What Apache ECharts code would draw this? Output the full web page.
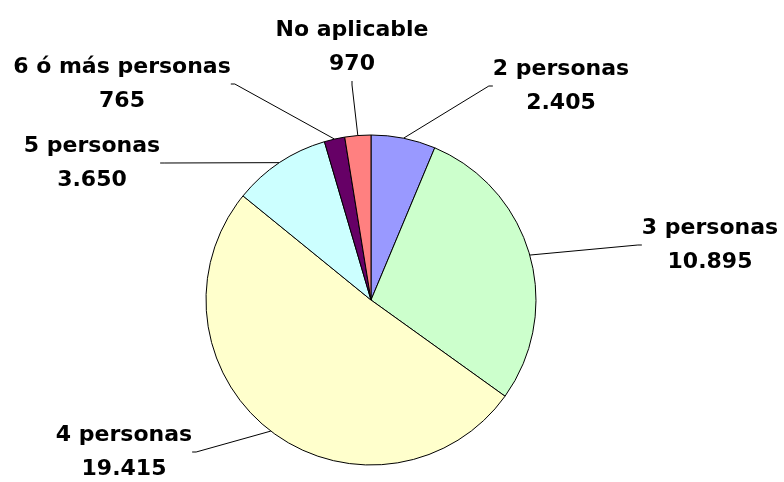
<!DOCTYPE html>
<html>
<head>
<meta charset="utf-8">
<script src="https://cdn.jsdelivr.net/npm/echarts@6/dist/echarts.min.js"></script>
<style>
    html, body { margin: 0; padding: 0; background: #fff; }
    #chartPie { width: 784px; height: 482px; }
</style>
</head>
<body>
<div id="chartPie"></div>
<script>
    // datos del gráfico
    var categorias = ['2 personas', '3 personas', '4 personas', '5 personas', '6 ó más personas', 'No aplicable'];
    var valores = [2405, 10895, 19415, 3650, 765, 970];
    var colores = ['#9999FF', '#CCFFCC', '#FFFFCC', '#CCFFFF', '#660066', '#FF8080'];

    // posición de cada etiqueta (centro del texto)
    var posEtiquetas = [[561, 86], [710, 245], [124, 452], [92, 163], [122, 84], [352, 47]];

    function miles(v) {
        return String(v).replace(/\B(?=(\d{3})+(?!\d))/g, '.');
    }

    var chartPie = echarts.init(document.getElementById('chartPie'));
    chartPie.setOption({
        animation: false,
        backgroundColor: '#fff',
        series: [
            {
                name: 'Personas',
                type: 'pie',
                center: [371, 300],
                radius: 165,
                startAngle: 90,
                clockwise: true,
                avoidLabelOverlap: false,
                data: categorias.map(function (c, i) {
                    return { name: c, value: valores[i], itemStyle: { color: colores[i] } };
                }),
                itemStyle: {
                    borderColor: '#000',
                    borderWidth: 1
                },
                label: {
                    show: true,
                    position: 'outside',
                    alignTo: 'none',
                    bleedMargin: 0,
                    overflow: 'none',
                    color: '#000',
                    fontFamily: 'DejaVu Sans',
                    fontWeight: 'bold',
                    fontSize: 22,
                    lineHeight: 34,
                    align: 'center',
                    formatter: function (p) {
                        return p.name + '\n' + miles(p.value);
                    }
                },
                labelLine: {
                    show: true,
                    length: 10,
                    length2: 4,
                    lineStyle: { color: '#000', width: 1 }
                },
                labelLayout: function (params) {
                    var p = posEtiquetas[params.dataIndex];
                    return { x: p[0], y: p[1], align: 'center', verticalAlign: 'middle' };
                },
                emphasis: { disabled: true }
            }
        ]
    });
</script>
</body>
</html>
